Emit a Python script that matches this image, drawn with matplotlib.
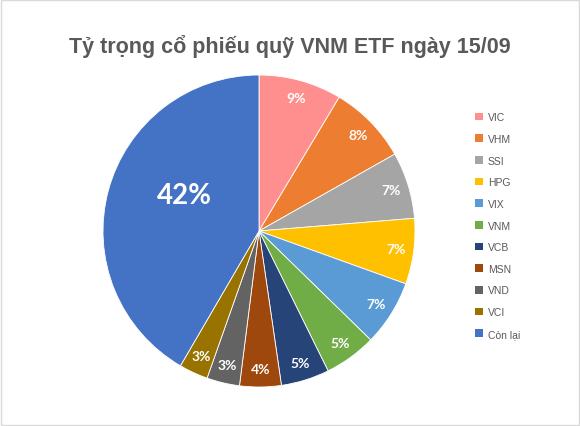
import matplotlib
matplotlib.use("Agg")
import matplotlib.pyplot as plt
from matplotlib.patches import Rectangle
import numpy as np

TITLE = "Tỷ trọng cổ phiếu quỹ VNM ETF ngày 15/09"

tickers = ["VIC", "VHM", "SSI", "HPG", "VIX", "VNM", "VCB", "MSN", "VND", "VCI", "Còn lại"]
weights = [8.6, 8.2, 6.9, 6.8, 6.8, 5.4, 5.0, 4.3, 3.4, 3.0, 41.6]
colors = ["#FF8F8F", "#ED7D31", "#A5A5A5", "#FFC000", "#5B9BD5", "#70AD47",
          "#264478", "#9E480E", "#636363", "#997300", "#4472C4"]

W, H, DPI = 580, 427, 100
fig = plt.figure(figsize=(W / DPI, H / DPI), dpi=DPI)
fig.patch.set_facecolor("white")

# thin grey frame like the excel chart area
fig.patches.append(Rectangle((0.002, 0.002), 0.996, 0.995, transform=fig.transFigure,
                             fill=False, edgecolor="#D9D9D9", linewidth=1))

fig.text(290 / W, 1 - 46 / H, TITLE, ha="center", va="center", fontsize=15.5,
         fontweight="bold", color="#595959", family="Liberation Sans")

# pie box: centre (259, 232) px, radius 156 px
ax = fig.add_axes([103 / W, 1 - 388 / H, 312 / W, 312 / H])
wedges, texts, autotexts = ax.pie(
    weights, colors=colors, startangle=90, counterclock=False,
    autopct="%.0f%%", pctdistance=0.885,
    wedgeprops=dict(linewidth=0.6, edgecolor="white"),
    textprops=dict(color="white", fontsize=10, fontweight="bold", family="Lato"))
ax.set_xlim(-1, 1)
ax.set_ylim(-1, 1)
ax.set_aspect("equal")

# the big slice label sits nearer the centre, a bit above the mid line
big = autotexts[-1]
w = wedges[-1]
ang = np.deg2rad((w.theta1 + w.theta2) / 2 - 10.5)
big.set_position((0.53 * np.cos(ang), 0.53 * np.sin(ang)))
big.set_fontsize(20)

handles = [Rectangle((0, 0), 1, 1, facecolor=c) for c in colors]
leg = fig.legend(handles, tickers, loc="upper left", bbox_to_anchor=(471 / W, 1 - 109 / H),
                 frameon=False, fontsize=7.5, handlelength=0.75, handleheight=0.75,
                 handletextpad=0.45, labelspacing=1.12, borderaxespad=0)
for t in leg.get_texts():
    t.set_color("#595959")
    t.set_family("Liberation Sans")

fig.savefig("out.png", dpi=DPI)
